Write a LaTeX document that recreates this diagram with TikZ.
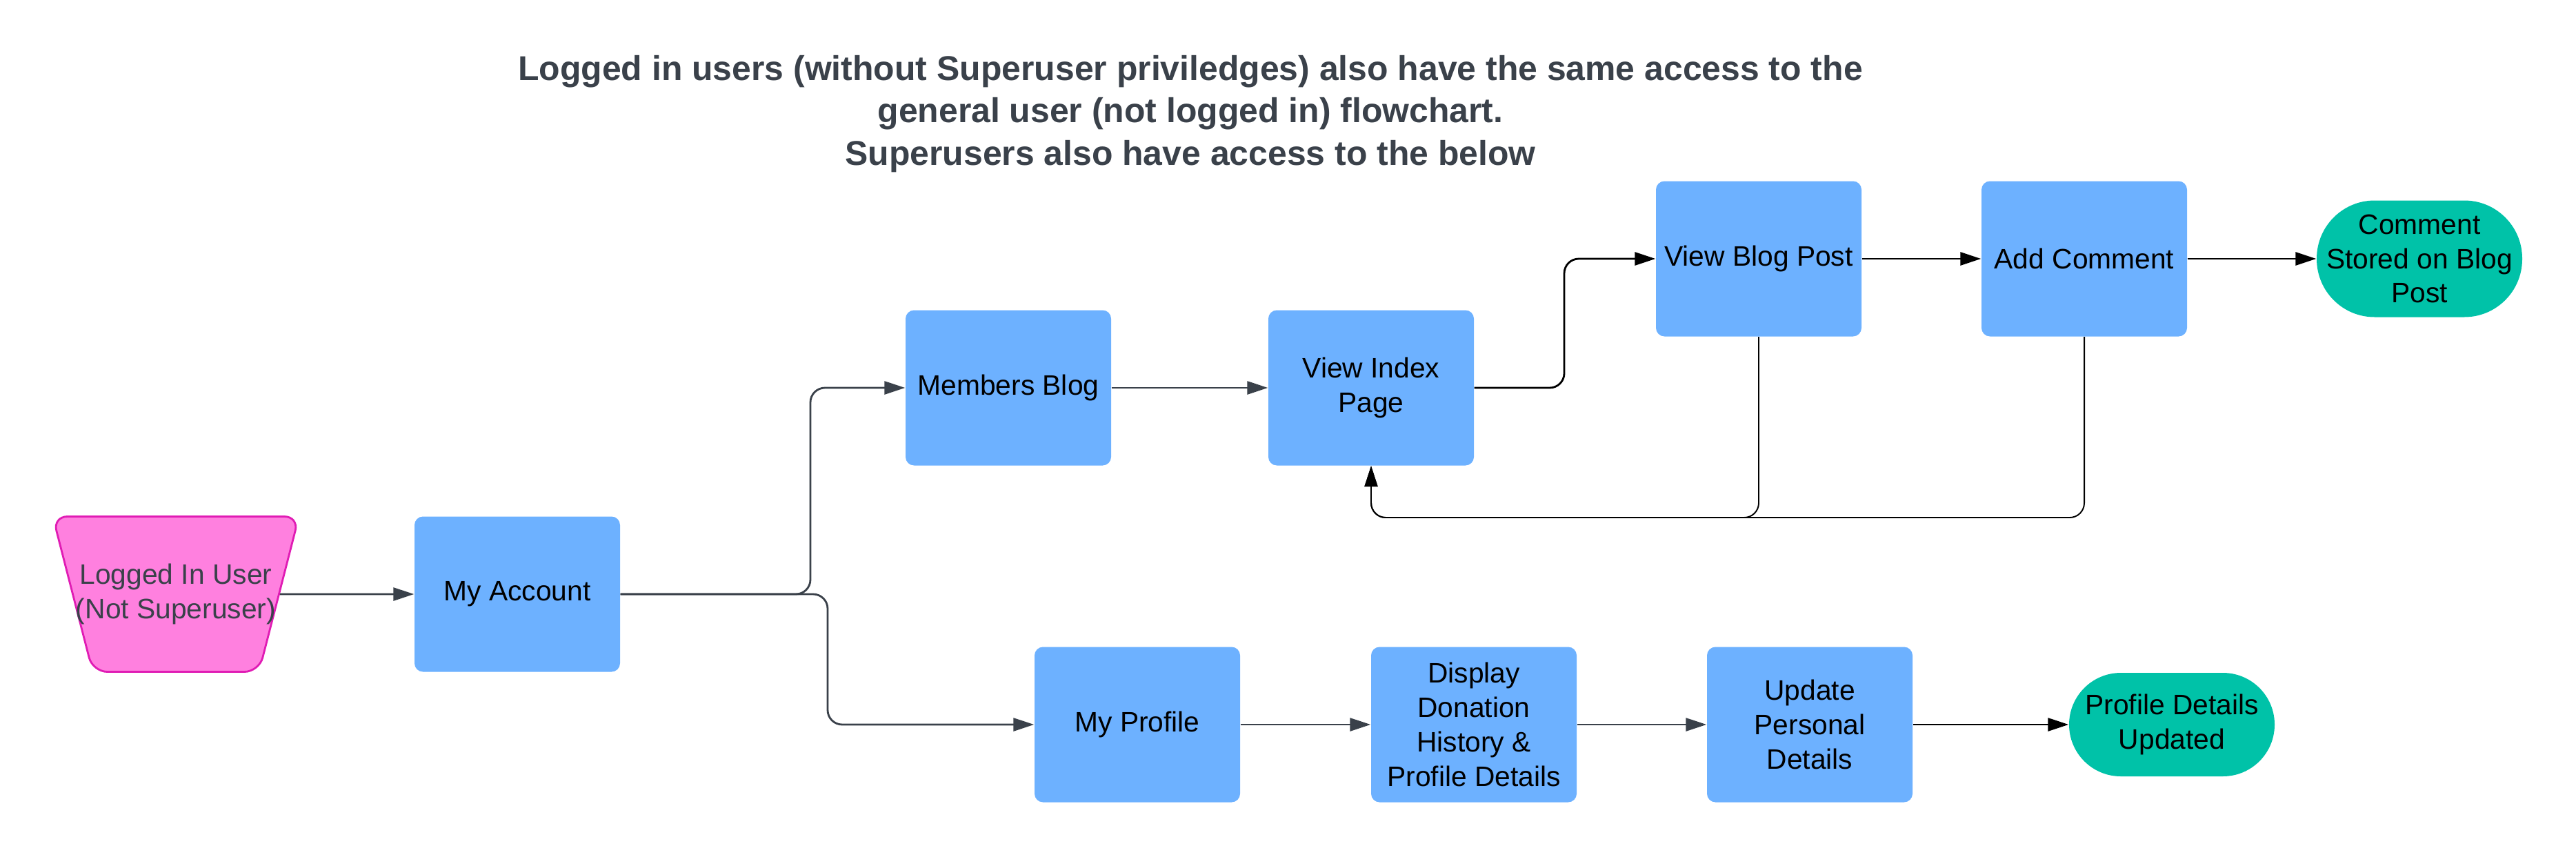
\documentclass[tikz,border=0pt]{standalone}
\usepackage{fontspec}
\setmainfont{Liberation Sans}
\usepackage{tikz}
\usetikzlibrary{arrows.meta,shapes.geometric}

\definecolor{boxblue}{HTML}{6DB1FF}
\definecolor{termteal}{HTML}{00C2A8}
\definecolor{userpink}{HTML}{FF80DF}
\definecolor{userrim}{HTML}{E01CB4}
\definecolor{inkgray}{HTML}{3A414A}

\begin{document}
\begin{tikzpicture}[
  x=1cm, y=1cm,
  every node/.style={font=\fontsize{11.6}{14.2}\selectfont},
  title/.style={align=center, text=inkgray, font=\fontsize{14.2}{17.4}\selectfont\bfseries},
  page/.style={fill=boxblue, rounded corners=3.5pt, minimum width=2.98cm, minimum height=2.25cm, align=center, inner sep=1pt},
  start/.style={trapezium, shape border rotate=180, trapezium angle=62.5, trapezium stretches body,
    draw=userrim, fill=userpink, thick, rounded corners=6pt, minimum width=3.53cm, minimum height=2.25cm,
    inner xsep=-0.245cm, align=center, text=inkgray},
  finish/.style={fill=termteal, minimum width=2.98cm, align=center, inner sep=1pt},
  arrow/.style={-{Triangle[length=3mm, width=1.9mm]}, line width=0.8pt, draw=inkgray, rounded corners=6pt},
  blackarrow/.style={arrow, draw=black},
  back/.style={blackarrow, line width=0.55pt}
]
\useasboundingbox (0,0) rectangle (37.35,-12.38);

\node[title] (note) at (17.26, -1.65) {Logged in users (without Superuser priviledges) also have the same access to the\\general user (not logged in) flowchart.\\Superusers also have access to the below};

% entry
\node[start] (user) at (2.55, -8.61) {Logged In User\\(Not Superuser)};
\node[page]  (acct) at (7.50, -8.61) {My Account};

% blog row
\node[page] (blog)  at (14.62, -5.62) {Members Blog};
\node[page] (index) at (19.88, -5.62) {View Index\\Page};
\node[page] (post)  at (25.50, -3.75) {View Blog Post};
\node[page] (addc)  at (30.22, -3.75) {Add Comment};
\node[finish, minimum height=1.69cm, rounded corners=0.84cm] (stored) at (35.08, -3.75) {Comment\\Stored on Blog\\Post};

% profile row
\node[page] (prof) at (16.49, -10.50) {My Profile};
\node[page] (disp) at (21.37, -10.50) {Display\\Donation\\History \&\\Profile Details};
\node[page] (upd)  at (26.24, -10.50) {Update\\Personal\\Details};
\node[finish, minimum height=1.50cm, rounded corners=0.75cm] (done) at (31.49, -10.50) {Profile Details\\Updated};

\coordinate (upturn)   at (11.75, -8.61);
\coordinate (downturn) at (12.00, -8.61);
\coordinate (hop)      at (22.68, -5.62);
\coordinate (loop)     at (0, -7.50);

\draw[arrow] (user) -- (acct);
\draw[arrow] (acct.east) -- (upturn) |- (blog.west);
\draw[arrow] (acct.east) -- (downturn) |- (prof.west);
\draw[arrow] (blog) -- (index);
\draw[blackarrow] (index.east) -- (hop) |- (post.west);
\draw[blackarrow] (post) -- (addc);
\draw[blackarrow] (addc) -- (stored);
\draw[back] (post.south) -- (post.south |- loop) -- (index.south |- loop) -- (index.south);
\draw[back] (addc.south) -- (addc.south |- loop) -- (index.south |- loop) -- (index.south);

\draw[arrow] (prof) -- (disp);
\draw[arrow] (disp) -- (upd);
\draw[blackarrow] (upd) -- (done);
\end{tikzpicture}
\end{document}
